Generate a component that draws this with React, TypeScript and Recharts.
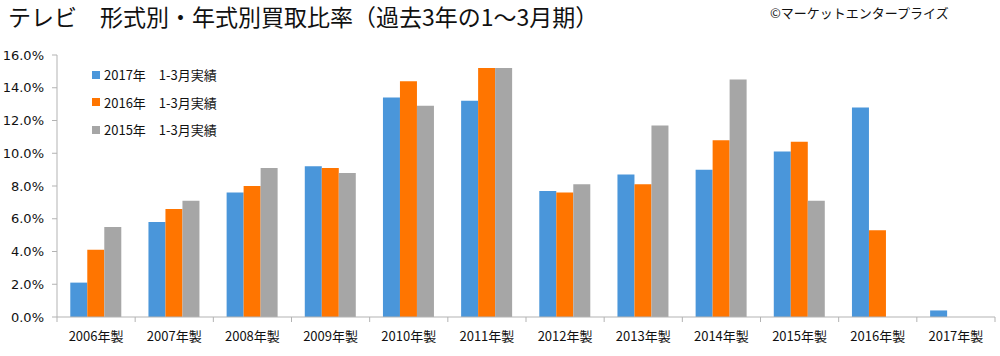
import React from 'react';
import { BarChart, Bar, XAxis, YAxis, Legend } from 'recharts';

const categories = [
  '2006年製', '2007年製', '2008年製', '2009年製', '2010年製', '2011年製',
  '2012年製', '2013年製', '2014年製', '2015年製', '2016年製', '2017年製',
];
const sales2017 = [2.1, 5.8, 7.6, 9.2, 13.4, 13.2, 7.7, 8.7, 9.0, 10.1, 12.8, 0.4];
const sales2016 = [4.1, 6.6, 8.0, 9.1, 14.4, 15.2, 7.6, 8.1, 10.8, 10.7, 5.3, null];
const sales2015 = [5.5, 7.1, 9.1, 8.8, 12.9, 15.2, 8.1, 11.7, 14.5, 7.1, null, null];
const yTicks = [0, 2, 4, 6, 8, 10, 12, 14, 16];

const seriesList = [
  { key: 's2017', name: '2017年　1-3月実績', color: '#4A96DA' },
  { key: 's2016', name: '2016年　1-3月実績', color: '#FF7500' },
  { key: 's2015', name: '2015年　1-3月実績', color: '#A6A6A6' },
];

const data = categories.map((name, i) => ({
  name,
  s2017: sales2017[i],
  s2016: sales2016[i],
  s2015: sales2015[i],
}));

const W = 1000;
const H = 356;
const M = { top: 55, right: 5, bottom: 9, left: 0 };
const Y_W = 57;
const X_H = 30;
const AXIS = '#b3b3b3';
const CJK = '"Noto Sans CJK JP", "Noto Sans", sans-serif';
const band = (W - M.left - M.right - Y_W) / categories.length;

const XTick = (props: any) => {
  const { x, y, payload, index } = props;
  const last = index === categories.length - 1;
  return (
    <g>
      <line x1={x - band / 2} y1={y} x2={x - band / 2} y2={y + 5} stroke={AXIS} />
      {last && <line x1={x + band / 2} y1={y} x2={x + band / 2} y2={y + 5} stroke={AXIS} />}
      <text x={x} y={y + 24} textAnchor="middle" fontSize={13} fontFamily={CJK} fill="#111">
        {payload.value}
      </text>
    </g>
  );
};

const LegendBox = () => (
  <div style={{ fontFamily: CJK, fontSize: 13, color: '#111' }}>
    {seriesList.map((s) => (
      <div key={s.key} style={{ display: 'flex', alignItems: 'center', height: 27.5 }}>
        <span style={{ width: 8, height: 8, background: s.color, marginRight: 4 }} />
        <span>{s.name}</span>
      </div>
    ))}
  </div>
);

export default function App() {
  return (
    <div style={{ position: 'absolute', left: 0, top: 0, width: W, height: H, background: '#fff' }}>
      <div style={{ position: 'absolute', left: 8, top: 1, fontSize: 23, lineHeight: '30px', fontFamily: CJK, color: '#111', whiteSpace: 'nowrap' }}>
        テレビ　形式別・年式別買取比率（過去3年の1～3月期）
      </div>
      <div style={{ position: 'absolute', left: 770, top: 3, fontSize: 13, lineHeight: '20px', fontFamily: CJK, color: '#111', whiteSpace: 'nowrap' }}>
        ©マーケットエンタープライズ
      </div>
      <BarChart width={W} height={H} data={data} margin={M} barCategoryGap="17%" barGap={0}>
        <XAxis
          dataKey="name"
          height={X_H}
          stroke={AXIS}
          tickLine={false}
          tickSize={0}
          tickMargin={0}
          tick={<XTick />}
          interval={0}
        />
        <YAxis
          width={Y_W}
          domain={[0, 16]}
          ticks={yTicks}
          stroke={AXIS}
          tickSize={5}
          tickMargin={8}
          tickFormatter={(v: number) => `${v.toFixed(1)}%`}
          tick={{ fontSize: 13, fontFamily: '"DejaVu Sans", sans-serif', fill: '#111' }}
        />
        <Legend
          layout="vertical"
          align="center"
          verticalAlign="middle"
          content={<LegendBox />}
          wrapperStyle={{ left: 92, top: 61, width: 200 }}
        />
        {seriesList.map((s) => (
          <Bar key={s.key} dataKey={s.key} name={s.name} fill={s.color} isAnimationActive={false} />
        ))}
      </BarChart>
    </div>
  );
}
